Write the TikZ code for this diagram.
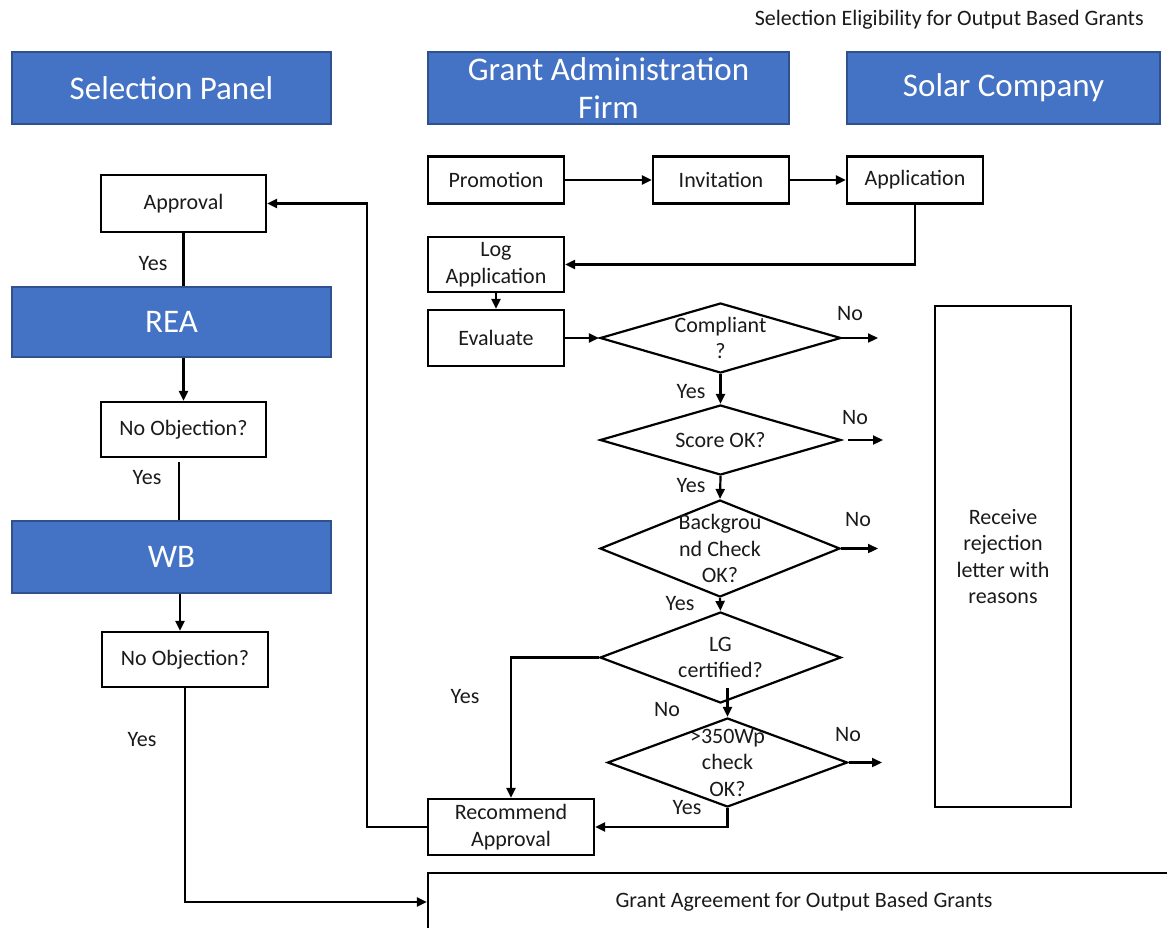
\documentclass[tikz,border=0pt]{standalone}
\usepackage{fontspec}
\setmainfont{Carlito}
\usetikzlibrary{arrows.meta,shapes.geometric,calc}
\definecolor{hdrfill}{HTML}{4472C4}
\definecolor{hdrdraw}{HTML}{2F528F}
\definecolor{txt}{HTML}{1A1A1A}
\begin{document}
\begin{tikzpicture}[x=1pt,y=-1pt,
  every node/.style={text=txt},
  small/.style={font=\fontsize{22}{26.5}\selectfont},
  hdr/.style={draw=hdrdraw,fill=hdrfill,line width=1.5pt,inner sep=0pt,align=center,
    font=\fontsize{33}{38}\selectfont,text=white},
  box/.style={draw=black,line width=2.2pt,inner sep=0pt,align=center,small},
  dia/.style={draw=black,line width=2.2pt,diamond,inner sep=0pt},
  dtext/.style={small,align=center,inner sep=0pt},
  lab/.style={small,inner sep=0pt},
  conn/.style={draw=black,line width=2.2pt},
  arr/.style={conn,-{Triangle[length=10pt,width=9pt]}}
]
\useasboundingbox (0,0) rectangle (1167,927);
\clip (0,0) rectangle (1167,927);

% title
\node[lab,anchor=east] (title) at (1144,20) {Selection Eligibility for Output Based Grants};

% headers
\node[hdr,minimum width=319pt,minimum height=72pt] (hsel) at (171.5,88) {Selection Panel};
\node[hdr,minimum width=361pt,minimum height=72pt] (hgaf) at (608.5,88) {Grant Administration\\Firm};
\node[hdr,minimum width=313pt,minimum height=72pt] (hsol) at (1003.5,88) {Solar Company};

% selection panel column
\node[box,minimum width=165pt,minimum height=57pt] (appr) at (183.5,203.5) {Approval};
\node[hdr,minimum width=319pt,minimum height=70pt] (rea) at (171.5,322) {REA};
\node[box,minimum width=165pt,minimum height=55pt] (noobj1) at (183.5,429.5) {No Objection?};
\node[hdr,minimum width=319pt,minimum height=72pt] (wb) at (171.5,557) {WB};
\node[box,minimum width=166pt,minimum height=55pt] (noobj2) at (185,659.5) {No Objection?};

% grant agreement
\node[box,minimum width=752pt,minimum height=58pt] (ga) at (804,902) {Grant Agreement for Output Based Grants};

% top row
\node[box,minimum width=136pt,minimum height=47pt] (promo) at (496,180) {Promotion};
\node[box,minimum width=136pt,minimum height=47pt] (invit) at (721,180) {Invitation};
\node[box,minimum width=136pt,minimum height=47pt] (applic) at (915,180) {Application};

\node[box,minimum width=136pt,minimum height=55pt] (logapp) at (496,264.5) {Log\\Application};
\node[box,minimum width=136pt,minimum height=56pt] (eval) at (496,338) {Evaluate};

% decisions
\node[dia,minimum width=241pt,minimum height=70pt] (comp) at (720.5,338) {};
\node[dtext] (compT) at (comp) {Compliant\\?};
\node[dia,minimum width=241pt,minimum height=70pt] (score) at (720.5,440) {};
\node[dtext] (scoreT) at (score) {Score OK?};
\node[dia,minimum width=240pt,minimum height=97pt] (bg) at (720,548.5) {};
\node[dtext] (bgT) at (bg) {Backgrou\\nd Check\\OK?};
\node[dia,minimum width=241pt,minimum height=91pt] (lg) at (720.5,657.5) {};
\node[dtext] (lgT) at (lg) {LG\\certified?};
\node[dia,minimum width=240pt,minimum height=89pt] (wp) at (727.5,762.5) {};
\node[dtext] (wpT) at (wp) {>350Wp\\check\\OK?};

\node[box,minimum width=166pt,minimum height=56pt] (rec) at (511,827) {Recommend\\Approval};

\node[box,minimum width=136pt,minimum height=501pt] (rej) at (1003,556.5) {Receive\\rejection\\letter with\\reasons};

% free ends
\coordinate (compNo) at (878,338);
\coordinate (scoreNo) at (883,440);
\coordinate (bgNo) at (878,548.5);
\coordinate (wpNo) at (882,762.5);
\coordinate (lgout) at (727.5,688);
\coordinate (n1s) at (179,462);
\coordinate (recturn) at (367,827);

% connectors top
\draw[arr] (promo.east) -- (invit.west);
\draw[arr] (invit.east) -- (applic.west);
\draw[arr] (applic.south) |- (logapp.east);
\draw[arr] (logapp.south) -- (eval.north);
\draw[arr] (eval.east) -- (comp.west);

\draw[arr] (comp.east) -- (compNo);
\draw[arr] (comp.south) -- (score.north);
\draw[arr] ([xshift=6pt]score.east) -- (scoreNo);
\draw[arr] (score.south) -- (bg.north);
\draw[arr] (bg.east) -- (bgNo);
\draw[arr] (bg.south) -- (lg.north);
\draw[arr] (lg.west) -| (rec.north);
\draw[arr] (lgout) -- (wp.north);
\draw[arr] (wp.east) -- (wpNo);
\draw[arr] (wp.south) |- (rec.east);
\draw[arr] (rec.west) -- (recturn) |- (appr.east);

% left column
\draw[conn] (appr.south) -- (rea.north -| appr.south);
\draw[arr] (rea.south -| noobj1.south) -- (noobj1.north);
\draw[conn] (n1s) -- (n1s |- wb.north);
\draw[arr] ([xshift=-5pt]noobj2.north |- wb.south) -- ([xshift=-5pt]noobj2.north);
\draw[arr] (noobj2.south) |- (ga.west);

% labels
\node[lab] (l1) at (153,264) {Yes};
\node[lab] (l2) at (147,478) {Yes};
\node[lab] (l3) at (142,740) {Yes};
\node[lab] (l4) at (850,314) {No};
\node[lab] (l5) at (691,392) {Yes};
\node[lab] (l6) at (855,418) {No};
\node[lab] (l7) at (691,486) {Yes};
\node[lab] (l8) at (858,520) {No};
\node[lab] (l9) at (680,604) {Yes};
\node[lab] (l10) at (465,697) {Yes};
\node[lab] (l11) at (667,710) {No};
\node[lab] (l12) at (848,735) {No};
\node[lab] (l13) at (687,808) {Yes};
\end{tikzpicture}
\end{document}
